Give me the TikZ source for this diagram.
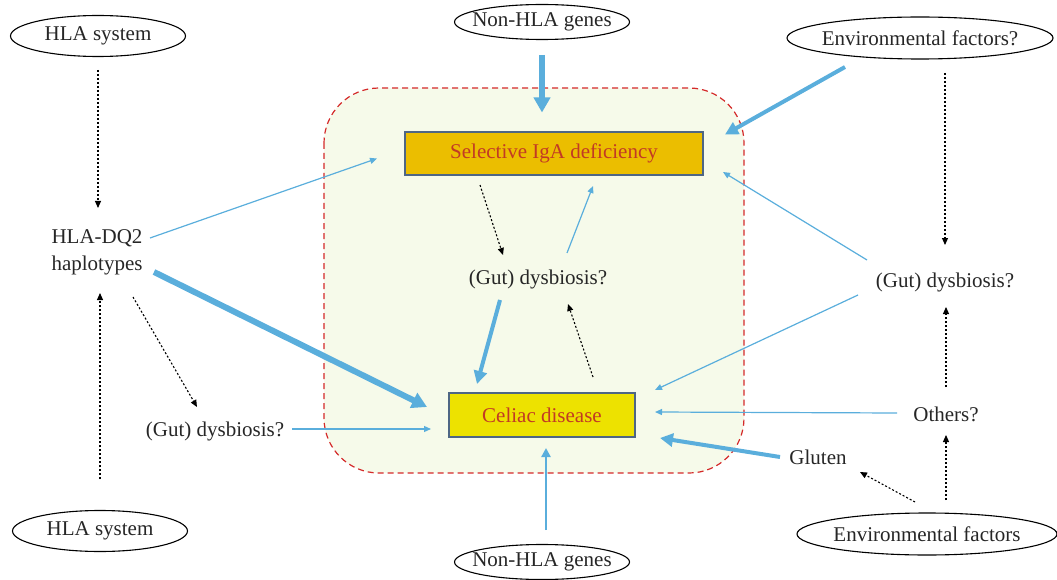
\documentclass[tikz,border=0pt]{standalone}
\usepackage{fontspec}
\setmainfont{Liberation Serif}
\usetikzlibrary{arrows.meta,calc}
\definecolor{ablue}{HTML}{5AAEDC}
\definecolor{zonefill}{HTML}{F6FAEA}
\definecolor{zonered}{HTML}{D42A2A}
\definecolor{selfill}{HTML}{EBBE00}
\definecolor{celfill}{HTML}{EDE200}
\definecolor{boxline}{HTML}{4E6684}
\definecolor{boxtext}{HTML}{C23A24}
\begin{document}
\begin{tikzpicture}[x=1pt,y=-1pt,
  lbl/.style={font=\fontsize{21}{27}\selectfont, inner sep=0pt, align=center, text=black!85},
  ell/.style={draw=black, line width=1.1pt},
  boxn/.style={draw=boxline, line width=1.5pt, inner sep=0pt, text=boxtext, font=\fontsize{21}{24}\selectfont},
  thinar/.style={draw=ablue, line width=1.2pt, -{Triangle[length=7pt,width=6pt]}},
  midar/.style={draw=ablue, line width=2.4pt, -{Triangle[length=9pt,width=9pt]}},
  thickar/.style={draw=ablue, line width=4pt, -{Triangle[length=13pt,width=13pt]}},
  heavyar/.style={draw=ablue, line width=6pt, -{Triangle[length=15pt,width=16pt]}},
  dotar/.style={draw=black, line width=1.1pt, dash pattern=on 2pt off 2pt, -{Triangle[length=7pt,width=6pt]}},
]
\useasboundingbox (0,0) rectangle (1057,580);
% zone
\draw[fill=zonefill, draw=zonered, line width=1.2pt, dash pattern=on 6pt off 4pt, rounded corners=55pt] (324,88) rectangle (744,473);
% boxes
\node[boxn, fill=selfill, minimum width=298pt, minimum height=43pt] (sel) at (554,153.5) {Selective IgA deficiency};
\node[boxn, fill=celfill, minimum width=186pt, minimum height=44pt] (cel) at (542,415) {Celiac disease};
% text nodes
\node[lbl] (hla1) at (98,36) {HLA system};
\node[lbl] (nonhla1) at (542,22) {Non-HLA genes};
\node[lbl] (env1) at (920,38) {Environmental factors?};
\node[lbl] (dq2) at (97,252) {HLA-DQ2\\haplotypes};
\node[lbl] (hla2) at (100,531) {HLA system};
\node[lbl] (gutL) at (215,431) {(Gut) dysbiosis?};
\node[lbl] (nonhla2) at (542,562) {Non-HLA genes};
\node[lbl] (env2) at (927,534) {Environmental factors};
\node[lbl] (others) at (946,414) {Others?};
\node[lbl] (gluten) at (818,457) {Gluten};
\node[lbl] (gutR) at (945,282) {(Gut) dysbiosis?};
\node[lbl] (gutC) at (538,279) {(Gut) dysbiosis?};
% ellipses
\draw[ell] (hla1.center) ellipse [x radius=87.5, y radius=20.5];
\draw[ell] (nonhla1.center) ellipse [x radius=87.5, y radius=17.5];
\draw[ell] (env1.center) ellipse [x radius=133, y radius=21];
\draw[ell] (hla2.center) ellipse [x radius=87.5, y radius=20.5];
\draw[ell] (nonhla2.center) ellipse [x radius=87.5, y radius=17.5];
\draw[ell] (env2.center) ellipse [x radius=130, y radius=21];
% blue arrows
\draw[heavyar] ($(nonhla1)+(0,33)$) -- ($(sel)+(-12,-41)$);
\draw[thickar] ($(env1)+(-75,29)$) -- ($(sel)+(171,-19)$);
\draw[thinar] ($(dq2)+(53,-14)$) -- ($(sel)+(-177,5)$);
\draw[heavyar] ($(dq2)+(57,20)$) -- ($(cel)+(-115,-8)$);
\draw[thinar] ($(gutR)+(-78,-22)$) -- ($(sel)+(169,18.5)$);
\draw[thinar] ($(gutC)+(29,-26)$) -- ($(sel)+(39,32.5)$);
\draw[thickar] ($(gutC)+(-38,21)$) -- ($(cel)+(-65,-31)$);
\draw[thinar] ($(gutR)+(-87,13)$) -- ($(cel)+(113,-25)$);
\draw[thinar] ($(others)+(-49,-1)$) -- ($(cel)+(113,-3)$);
\draw[thickar] ($(gluten)+(-38,0)$) -- ($(cel)+(118,23)$);
\draw[thinar] ($(gutL)+(77,-2)$) -- ($(cel)+(-111,14)$);
\draw[midar] ($(nonhla2)+(4,-32)$) -- ($(cel)+(4,33)$);
% dotted arrows
\draw[dotar] ($(cel)+(51,-38)$) -- ($(gutC)+(30,25)$);
\draw[dotar] ($(sel)+(-74,31.5)$) -- ($(gutC)+(-35,-24)$);
\draw[dotar] ($(hla1)+(0,34)$) -- ($(dq2)+(1,-44)$);
\draw[dotar] ($(hla2)+(0,-52)$) -- ($(dq2)+(3,41)$);
\draw[dotar] ($(dq2)+(36,45)$) -- ($(gutL)+(-18,-24)$);
\draw[dotar] ($(env1)+(25,35)$) -- ($(gutR)+(0,-37)$);
\draw[dotar] ($(env2)+(19,-34)$) -- ($(others)+(0,21)$);
\draw[dotar] ($(others)+(0,-27)$) -- ($(gutR)+(1,25)$);
\draw[dotar] ($(env2)+(-12,-32)$) -- ($(gluten)+(42,15)$);
\end{tikzpicture}
\end{document}
